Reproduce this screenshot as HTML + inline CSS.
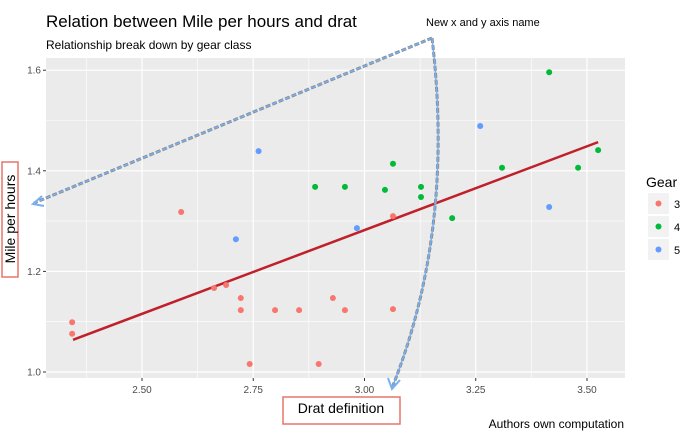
<!DOCTYPE html>
<html><head><meta charset="utf-8"><style>
body{margin:0;background:#fff;font-family:"Liberation Sans",sans-serif}
svg text{font-family:"Liberation Sans",sans-serif}
</style></head><body>
<svg width="688" height="440" xmlns="http://www.w3.org/2000/svg">
<rect width="688" height="440" fill="#fff"/>
<text x="46" y="27" font-size="17" fill="#000">Relation between Mile per hours and drat</text>
<text x="46" y="49" font-size="12" fill="#000">Relationship break down by gear class</text>
<rect x="46" y="58" width="579" height="320" fill="#ebebeb"/>
<g id="grid"></g><g id="axes"></g><g id="marks"></g>
<g>
<rect x="2" y="162" width="16" height="115" fill="none" stroke="#e8736b" stroke-width="1.5"/>
<text transform="translate(15,219) rotate(-90)" text-anchor="middle" font-size="14">Mile per hours</text></g>
<g>
<rect x="283" y="397" width="117" height="27" fill="none" stroke="#e8736b" stroke-width="1.5"/>
<text x="341" y="413" text-anchor="middle" font-size="14">Drat definition</text></g>
<text x="624" y="428" text-anchor="end" font-size="12">Authors own computation</text>
<g>
<text x="426" y="26" font-size="11">New x and y axis name</text>
<path d="M432,38 L34,203" stroke="#888" stroke-width="3" stroke-dasharray="5,2" fill="none"/>
<path d="M432,38 L34,203" stroke="#7ab0f0" stroke-width="1.5" stroke-dasharray="5,2" fill="none"/>
<path d="M432,38 Q455,230 392,388" stroke="#888" stroke-width="3" stroke-dasharray="5,2" fill="none"/>
<path d="M432,38 Q455,230 392,388" stroke="#7ab0f0" stroke-width="1.5" fill="none"/>
<path d="M42,196 L33,204 L44,206 M388,378 L392,389 L400,380" stroke="#7ab0f0" stroke-width="2" fill="none"/>
</g>
<g>
<text x="646" y="187" font-size="14">Gear</text>
<g id="legend"></g></g>
</svg>
<script>
const gear3X=[2.343,2.343,2.588,2.662,2.689,2.722,2.722,2.742,2.799,2.853,2.897,2.929,2.956,3.064,3.064];
const gear3Y=[1.099,1.076,1.318,1.167,1.173,1.147,1.123,1.016,1.123,1.123,1.016,1.147,1.123,1.310,1.125];
const gear4X=[2.889,2.956,3.046,3.064,3.127,3.127,3.197,3.309,3.480,3.415,3.525];
const gear4Y=[1.368,1.368,1.362,1.414,1.368,1.348,1.306,1.406,1.406,1.596,1.441];
const gear5X=[2.762,2.711,2.983,3.260,3.415];
const gear5Y=[1.439,1.264,1.286,1.489,1.328];
const fitX=[2.345,3.525];
const fitY=[1.064,1.457];
const xTicks=[2.5,2.75,3.0,3.25,3.5];
const xTickLabels=["2.50","2.75","3.00","3.25","3.50"];
const yTicks=[1.0,1.2,1.4,1.6];
const yTickLabels=["1.0","1.2","1.4","1.6"];
const gears=["3","4","5"];
const colors=["#f8766d","#00ba38","#619cff"];
const NS="http://www.w3.org/2000/svg";
const X=v=>142+(v-2.5)*445;
const Y=v=>372-(v-1)*503;
function mk(t,a,p){const e=document.createElementNS(NS,t);for(const k in a)e.setAttribute(k,a[k]);p.appendChild(e);return e;}
const grid=document.getElementById('grid'),axes=document.getElementById('axes'),marks=document.getElementById('marks');
for(let i=0;i<xTicks.length;i++){
 if(i<xTicks.length-1){const m=(xTicks[i]+xTicks[i+1])/2;mk('line',{x1:X(m),x2:X(m),y1:58,y2:378,stroke:'#fff','stroke-width':0.6},grid);}
 if(i==0){const m=xTicks[0]-0.125;mk('line',{x1:X(m),x2:X(m),y1:58,y2:378,stroke:'#fff','stroke-width':0.6},grid);}
 const l=mk('line',{x1:X(xTicks[i]),x2:X(xTicks[i]),y1:58,y2:378,stroke:'#fff','stroke-width':1.2},grid);
 
 mk('line',{x1:X(xTicks[i]),x2:X(xTicks[i]),y1:378,y2:381,stroke:'#333'},axes);
 const t=mk('text',{x:X(xTicks[i]),y:393,'text-anchor':'middle','font-size':10,fill:'#4d4d4d'},axes);t.textContent=xTickLabels[i];
 
}
for(let i=0;i<yTicks.length;i++){
 if(i<yTicks.length-1){const m=(yTicks[i]+yTicks[i+1])/2;mk('line',{x1:46,x2:625,y1:Y(m),y2:Y(m),stroke:'#fff','stroke-width':0.6},grid);}
 const l=mk('line',{x1:46,x2:625,y1:Y(yTicks[i]),y2:Y(yTicks[i]),stroke:'#fff','stroke-width':1.2},grid);
 
 mk('line',{x1:43,x2:46,y1:Y(yTicks[i]),y2:Y(yTicks[i]),stroke:'#333'},axes);
 const t=mk('text',{x:41,y:Y(yTicks[i])+3.5,'text-anchor':'end','font-size':10,fill:'#4d4d4d'},axes);t.textContent=yTickLabels[i];
 
}
const ln=mk('line',{x1:X(fitX[0]),y1:Y(fitY[0]),x2:X(fitX[1]),y2:Y(fitY[1]),stroke:'#c0202a','stroke-width':2.5},marks);

const series=[[gear3X,gear3Y],[gear4X,gear4Y],[gear5X,gear5Y]];
series.forEach((s,g)=>{for(let i=0;i<s[0].length;i++){
 const c=mk('circle',{cx:X(s[0][i]),cy:Y(s[1][i]),r:3,fill:colors[g]},marks);
 }});
const lg=document.getElementById('legend');
gears.forEach((g,i)=>{const y=193+i*23;
 mk('rect',{x:648,y:y,width:21,height:21,fill:'#f2f2f2'},lg);
 const c=mk('circle',{cx:658.5,cy:y+10.5,r:3,fill:colors[i]},lg);
 
 const t=mk('text',{x:674,y:y+15,'font-size':11},lg);t.textContent=g;
 });
</script>
</body></html>
